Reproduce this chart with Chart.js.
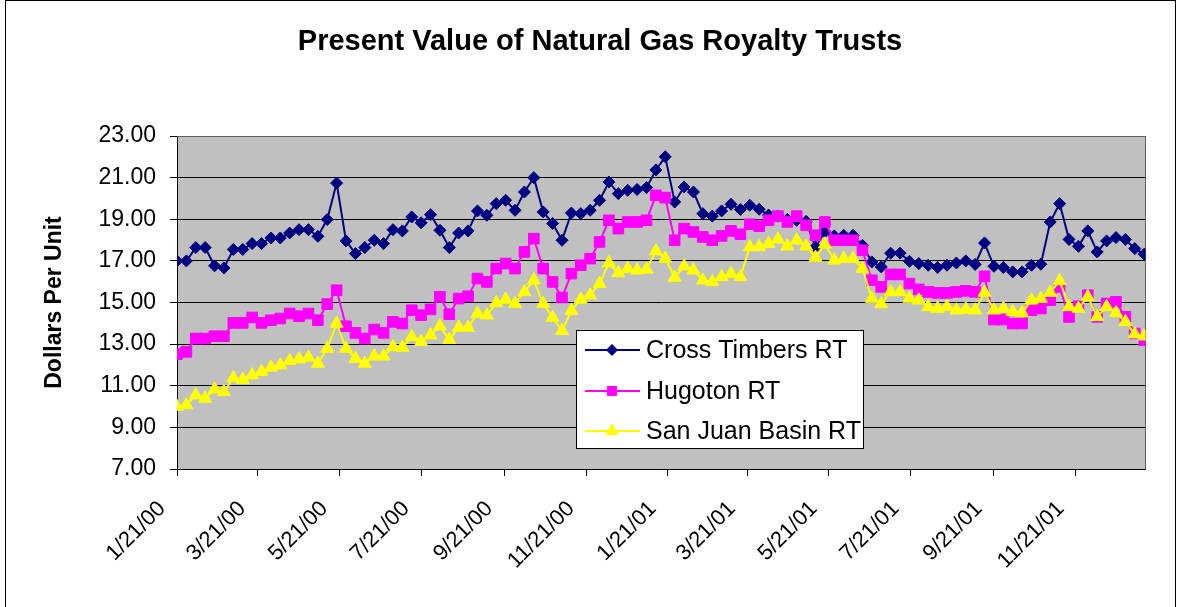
<!DOCTYPE html>
<html>
<head>
<meta charset="utf-8">
<title>Present Value of Natural Gas Royalty Trusts</title>
<script src="https://cdn.jsdelivr.net/npm/chart.js@4.4.1/dist/chart.umd.min.js"></script>
<style>
  html, body { margin: 0; padding: 0; background: #fff; }
  #wrap { position: relative; width: 1180px; height: 607px; overflow: hidden; }
  #frame { position: absolute; left: 5px; top: 0; width: 1171px; height: 640px; border: 1px solid #000; box-sizing: border-box; }
  #chart { position: absolute; left: 0; top: 0; }
</style>
</head>
<body>
<div id="wrap">
  <div id="frame"></div>
  <canvas id="chart" width="1180" height="607"></canvas>
</div>
<script>
/* ===== Data ===== */
const chartTitle = "Present Value of Natural Gas Royalty Trusts";
const yAxisTitle = "Dollars Per Unit";
const seriesNames = ["Cross Timbers RT", "Hugoton RT", "San Juan Basin RT"];

// one value per week (Fridays), starting 1/21/00
const firstDate = "1/21/00";
const tickLabels = ["1/21/00", "3/21/00", "5/21/00", "7/21/00", "9/21/00", "11/21/00",
  "1/21/01", "3/21/01", "5/21/01", "7/21/01", "9/21/01", "11/21/01"];

const crossTimbers = [
  17.00, 17.00, 17.64, 17.64, 16.76, 16.66, 17.55, 17.55, 17.83, 17.83,
  18.10, 18.10, 18.34, 18.50, 18.50, 18.18, 18.99, 20.74, 17.96, 17.35,
  17.64, 17.99, 17.83, 18.50, 18.44, 19.11, 18.83, 19.22, 18.47, 17.64,
  18.34, 18.44, 19.40, 19.19, 19.75, 19.91, 19.43, 20.31, 21.00, 19.35,
  18.80, 17.99, 19.30, 19.27, 19.43, 19.91, 20.79, 20.23, 20.39, 20.43,
  20.52, 21.37, 22.00, 19.83, 20.55, 20.31, 19.27, 19.15, 19.40, 19.72,
  19.47, 19.67, 19.48, 19.20, 19.15, 19.00, 18.95, 18.90, 17.67, 18.40,
  18.20, 18.23, 18.23, 17.75, 16.95, 16.71, 17.37, 17.37, 16.98, 16.87,
  16.79, 16.68, 16.79, 16.90, 17.00, 16.83, 17.86, 16.74, 16.68, 16.47,
  16.47, 16.79, 16.84, 18.87, 19.75, 18.03, 17.70, 18.44, 17.43, 17.96,
  18.12, 18.03, 17.59, 17.32
];

const hugoton = [
  12.52, 12.63, 13.27, 13.27, 13.38, 13.38, 14.02, 14.02, 14.28, 14.02,
  14.15, 14.23, 14.47, 14.34, 14.47, 14.15, 14.92, 15.59, 13.86, 13.54,
  13.27, 13.70, 13.54, 14.07, 13.99, 14.63, 14.39, 14.67, 15.27, 14.44,
  15.19, 15.30, 16.15, 15.99, 16.63, 16.87, 16.63, 17.43, 18.07, 16.63,
  15.99, 15.24, 16.39, 16.79, 17.11, 17.91, 18.95, 18.55, 18.87, 18.87,
  18.95, 20.15, 20.04, 17.99, 18.55, 18.39, 18.15, 17.99, 18.20, 18.44,
  18.28, 18.76, 18.67, 18.95, 19.15, 18.87, 19.15, 18.71, 18.23, 18.87,
  17.99, 17.99, 17.99, 17.51, 16.07, 15.75, 16.35, 16.35, 15.91, 15.63,
  15.51, 15.46, 15.46, 15.51, 15.56, 15.51, 16.26, 14.18, 14.18, 13.99,
  13.99, 14.63, 14.71, 15.11, 15.75, 14.31, 14.82, 15.35, 14.31, 14.95,
  15.03, 14.31, 13.51, 13.19
];

const sanJuan = [
   9.99, 10.07, 10.55, 10.39, 10.83, 10.71, 11.38, 11.30, 11.51, 11.67,
  11.88, 11.99, 12.20, 12.28, 12.36, 12.07, 12.79, 13.99, 12.79, 12.31,
  12.07, 12.42, 12.42, 12.87, 12.84, 13.35, 13.11, 13.43, 13.86, 13.22,
  13.80, 13.80, 14.47, 14.39, 14.98, 15.15, 14.95, 15.51, 16.07, 14.95,
  14.28, 13.64, 14.60, 15.15, 15.35, 15.91, 16.90, 16.42, 16.63, 16.55,
  16.59, 17.47, 17.11, 16.20, 16.74, 16.55, 16.07, 15.99, 16.23, 16.39,
  16.23, 17.67, 17.67, 17.83, 18.04, 17.70, 17.99, 17.70, 17.16, 17.80,
  17.03, 17.11, 17.11, 16.63, 15.19, 14.93, 15.51, 15.51, 15.19, 15.11,
  14.79, 14.71, 14.79, 14.63, 14.67, 14.63, 15.48, 14.63, 14.71, 14.55,
  14.50, 15.11, 15.19, 15.48, 16.04, 14.79, 14.71, 15.27, 14.31, 14.79,
  14.50, 14.07, 13.48, 13.38
];

const seriesColors = ["#000080", "#ff00ff", "#ffff00"];
const FONT = "'Liberation Sans', Arial, sans-serif";

/* ===== Dates -> day numbers ===== */
function parseDate(s) {
  const [m, d, y] = s.split("/").map(Number);
  return Date.UTC(2000 + y, m - 1, d);
}
function dayOf(s) {
  return Math.round((parseDate(s) - parseDate(firstDate)) / 86400000);
}
const tickDays = tickLabels.map(dayOf);
const weekDays = crossTimbers.map((_, i) => i * 7);

function toPoints(values) {
  return values.map((v, i) => ({ x: weekDays[i], y: v }));
}

/* ===== Plugins ===== */
const plotFrame = {
  id: "plotFrame",
  beforeDraw(chart) {
    const { ctx, chartArea: a } = chart;
    ctx.save();
    ctx.fillStyle = "#c0c0c0";
    ctx.fillRect(a.left, a.top, a.right - a.left, a.bottom - a.top);
    ctx.restore();
  },
  beforeDatasetsDraw(chart) {
    const { ctx, chartArea: a } = chart;
    ctx.save();
    ctx.strokeStyle = "#606060";
    ctx.lineWidth = 1;
    ctx.beginPath();
    ctx.moveTo(a.left, a.top + 0.5);
    ctx.lineTo(Math.round(a.right) - 0.5, a.top + 0.5);
    ctx.lineTo(Math.round(a.right) - 0.5, a.bottom);
    ctx.stroke();
    ctx.restore();
  }
};

const titleAndLegend = {
  id: "titleAndLegend",
  afterDraw(chart) {
    const ctx = chart.ctx;
    ctx.save();
    // title
    ctx.fillStyle = "#000";
    ctx.font = "bold 29px " + FONT;
    ctx.textAlign = "center";
    ctx.textBaseline = "middle";
    ctx.fillText(chartTitle, 600, 42);

    // legend box
    const box = { x: 576.5, y: 330.5, w: 287, h: 118 };
    ctx.fillStyle = "#fff";
    ctx.fillRect(box.x, box.y, box.w, box.h);
    ctx.strokeStyle = "#000";
    ctx.lineWidth = 1;
    ctx.strokeRect(box.x, box.y, box.w, box.h);

    const rows = [350, 391, 431];
    const styles = ["rectRot", "rect", "triangle"];
    const radii = [5.5, 6.5, 7];
    ctx.font = "25px " + FONT;
    ctx.textAlign = "left";
    seriesNames.forEach((name, i) => {
      const y = rows[i];
      ctx.strokeStyle = seriesColors[i];
      ctx.lineWidth = 2;
      ctx.beginPath();
      ctx.moveTo(585, y);
      ctx.lineTo(640, y);
      ctx.stroke();
      ctx.fillStyle = seriesColors[i];
      ctx.lineWidth = 1;
      Chart.helpers.drawPoint(ctx, { pointStyle: styles[i], radius: radii[i], rotation: 0, borderWidth: 1 }, 612, y);
      ctx.fillStyle = "#000";
      ctx.fillText(name, 646, y + 1);
    });
    ctx.restore();
  }
};

/* ===== Chart ===== */
function makeDataset(label, values, color, style, radius, order) {
  return {
    label: label,
    data: toPoints(values),
    borderColor: color,
    backgroundColor: color,
    borderWidth: 2,
    pointStyle: style,
    pointRadius: radius,
    pointBackgroundColor: color,
    pointBorderColor: color,
    pointBorderWidth: 1,
    tension: 0,
    order: order
  };
}

new Chart(document.getElementById("chart"), {
  type: "line",
  data: {
    datasets: [
      makeDataset(seriesNames[0], crossTimbers, seriesColors[0], "rectRot", 6, 2),
      makeDataset(seriesNames[1], hugoton, seriesColors[1], "rect", 7.5, 1),
      makeDataset(seriesNames[2], sanJuan, seriesColors[2], "triangle", 7.5, 0)
    ]
  },
  options: {
    responsive: false,
    animation: false,
    layout: { padding: { top: 136, right: 34.5, left: 0, bottom: 0 } },
    plugins: {
      legend: { display: false },
      title: { display: false },
      tooltip: { enabled: false }
    },
    scales: {
      x: {
        type: "linear",
        min: 0,
        max: 722,
        afterBuildTicks(scale) {
          scale.ticks = tickDays.map(v => ({ value: v }));
        },
        afterFit(scale) {
          scale.height = 138;
        },
        grid: { drawOnChartArea: false, drawTicks: true, tickLength: 7, color: "#000" },
        border: { color: "#000", width: 1 },
        ticks: {
          autoSkip: false,
          minRotation: 45,
          maxRotation: 45,
          padding: 20,
          labelOffset: -15,
          color: "#000",
          font: { family: FONT, size: 22 },
          callback: v => tickLabels[tickDays.indexOf(v)]
        }
      },
      y: {
        min: 7,
        max: 23,
        afterFit(scale) {
          scale.width = 177;
        },
        grid: { color: "#000", tickLength: 7 },
        border: { color: "#000", width: 1 },
        ticks: {
          stepSize: 2,
          padding: 14,
          color: "#000",
          font: { family: FONT, size: 23 },
          callback: v => v.toFixed(2)
        },
        title: {
          display: true,
          text: yAxisTitle,
          color: "#000",
          font: { family: FONT, size: 23, weight: "bold" },
          padding: { top: 41, bottom: 0 }
        }
      }
    }
  },
  plugins: [plotFrame, titleAndLegend]
});
</script>
</body>
</html>
